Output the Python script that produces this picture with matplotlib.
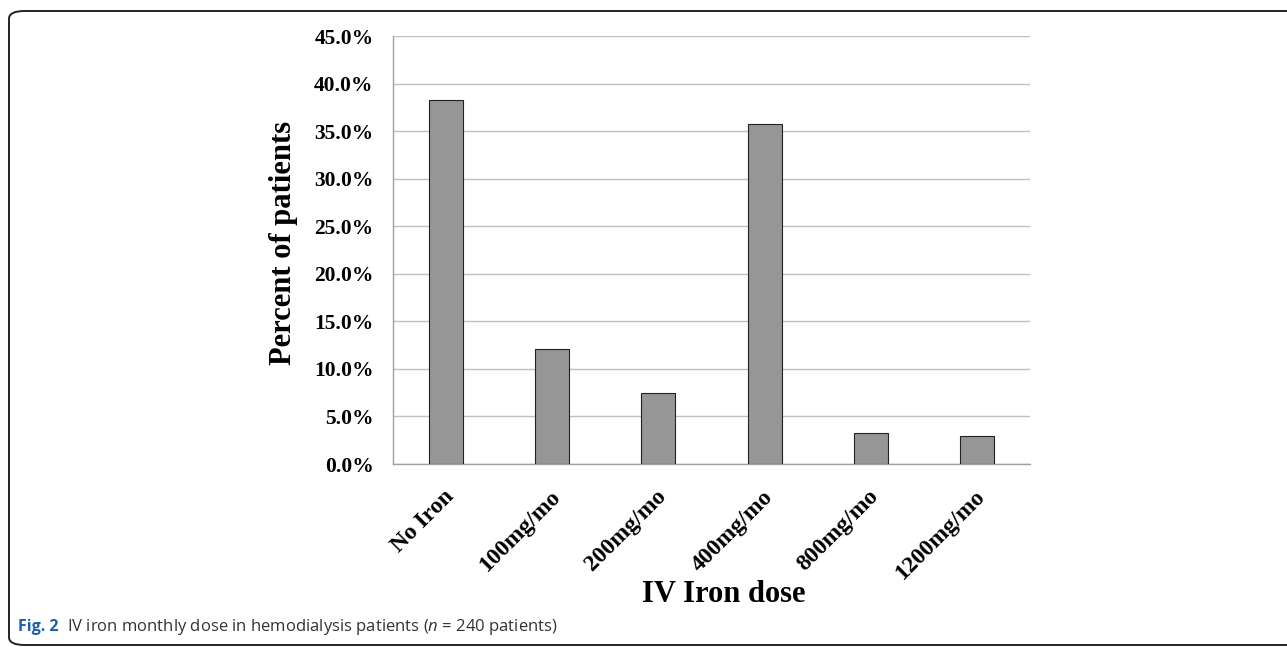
import numpy as np
import matplotlib.pyplot as plt
from matplotlib.patches import FancyBboxPatch
from matplotlib.ticker import FuncFormatter
import matplotlib.transforms as mtransforms

categories = ["No Iron", "100mg/mo", "200mg/mo", "400mg/mo", "800mg/mo", "1200mg/mo"]
percent = [38.3, 12.1, 7.5, 35.8, 3.3, 2.9]

plt.rcParams["mathtext.fontset"] = "custom"
plt.rcParams["mathtext.it"] = "Open Sans:italic"
plt.rcParams["mathtext.rm"] = "Open Sans"

fig = plt.figure(figsize=(12.87, 6.47), dpi=100)

# rounded frame around figure
frame = FancyBboxPatch((9 / 1287, 2 / 647), 1.05, 634 / 647,
                       boxstyle="round,pad=0,rounding_size=0.012",
                       transform=fig.transFigure, fill=False,
                       edgecolor="#222222", linewidth=1.4, clip_on=False)
fig.patches.append(frame)

ax = fig.add_axes([393 / 1287, 1 - 464 / 647, 637 / 1287, 428 / 647])
x = np.arange(len(categories))
ax.bar(x, percent, width=0.32, color="#969696", edgecolor="#222222", linewidth=0.8, zorder=3)

ax.set_xlim(-0.5, len(categories) - 0.5)
ax.set_ylim(0, 45)
ax.set_yticks(np.arange(0, 46, 5))
ax.yaxis.set_major_formatter(FuncFormatter(lambda v, p: "%.1f%%" % v))
ax.grid(axis="y", color="#c0c0c0", linewidth=1.0, zorder=0)

for s in ["top", "right"]:
    ax.spines[s].set_visible(False)
for s in ["left", "bottom"]:
    ax.spines[s].set_color("#a0a0a0")
    ax.spines[s].set_linewidth(1.0)

serif = ["Liberation Serif", "DejaVu Serif"]
ax.tick_params(axis="y", length=0, pad=14)
ax.tick_params(axis="x", length=0, pad=4)
for lab in ax.get_yticklabels():
    lab.set_fontfamily(serif)
    lab.set_fontweight("bold")
    lab.set_fontsize(15.5)

ax.set_xticks(x)
ax.set_xticklabels(categories, rotation=45, ha="right", rotation_mode="anchor",
                   fontfamily=serif, fontweight="bold", fontsize=17)
offset = mtransforms.ScaledTranslation(-2 / 72, -12 / 72, fig.dpi_scale_trans)
for lab in ax.get_xticklabels():
    lab.set_transform(lab.get_transform() + offset)

fig.text(284 / 1287, 1 - 243 / 647, "Percent of patients", rotation=90,
         ha="center", va="center", fontfamily=serif, fontweight="bold", fontsize=22)
fig.text(724 / 1287, 1 - 594 / 647, "IV Iron dose", ha="center", va="center",
         fontfamily=serif, fontweight="bold", fontsize=22)

fig.text(18 / 1287, 1 - 627 / 647, "Fig. 2", ha="left", va="center",
         fontfamily="Open Sans", fontweight="bold", fontsize=11.5, color="#1f5ea8")
fig.text(67 / 1287, 1 - 627 / 647,
         "IV iron monthly dose in hemodialysis patients ($n$ = 240 patients)",
         ha="left", va="center", fontfamily="Open Sans", fontsize=12, color="#333333")

fig.savefig("out.png", dpi=100)
